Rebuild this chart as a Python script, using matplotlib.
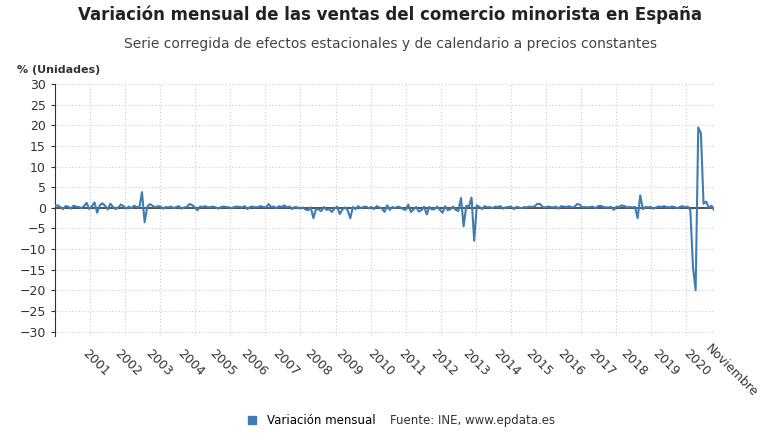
import matplotlib
matplotlib.use("Agg")
import matplotlib.pyplot as plt
from matplotlib.lines import Line2D

y2000 = [0.5, 0.6, 0.2, -0.3, 0.4, 0.3, -0.2, 0.5, 0.3, 0.2, -0.1, 0.4]
y2001 = [1.2, -0.3, 0.4, 1.3, -1.2, 0.6, 1.1, 0.5, -0.4, 1.0, 0.2, -0.3]
y2002 = [0.1, 0.8, 0.4, -0.2, 0.3, -0.1, 0.5, 0.2, 0.1, 3.8, -3.5, 0.3]
y2003 = [0.9, 0.5, 0.1, 0.4, 0.3, -0.2, 0.2, 0.1, 0.3, -0.1, 0.2, 0.4]
y2004 = [-0.2, 0.1, 0.2, 0.9, 0.7, 0.1, -0.6, 0.3, 0.2, 0.4, 0.1, 0.2]
y2005 = [0.3, 0.1, -0.2, 0.2, 0.3, 0.2, 0.1, -0.1, 0.2, 0.3, 0.2, 0.1]
y2006 = [0.4, -0.3, 0.2, 0.3, 0.1, 0.2, 0.4, 0.2, 0.1, 0.9, 0.2, 0.3]
y2007 = [-0.1, 0.4, 0.2, 0.6, 0.1, 0.3, -0.3, 0.2, 0.1, -0.2, 0.1, -0.4]
y2008 = [-0.6, 0.1, -2.5, -0.3, -0.4, -0.8, 0.2, -0.5, -0.3, -1.0, -0.2, 0.3]
y2009 = [-1.5, -0.4, 0.1, -0.6, -2.5, 0.2, -0.3, 0.4, -0.1, 0.2, 0.3, -0.1]
y2010 = [0.2, -0.3, 0.4, 0.1, -0.2, -1.0, 0.6, -0.5, 0.2, -0.1, 0.3, 0.1]
y2011 = [-0.3, -0.5, 0.8, -1.0, -0.4, 0.2, -0.9, -0.6, 0.3, -1.6, 0.2, -0.4]
y2012 = [-0.3, 0.3, -0.5, -1.2, 0.4, -0.6, -0.3, 0.3, -0.5, -0.8, 2.4, -4.5]
y2013 = [0.5, 0.3, 2.5, -8.0, 0.6, 0.2, -0.3, 0.4, 0.1, 0.2, -0.1, 0.3]
y2014 = [0.2, 0.4, -0.2, 0.1, 0.2, 0.3, -0.3, 0.2, 0.1, -0.1, 0.2, 0.1]
y2015 = [0.3, 0.2, 0.4, 1.0, 0.9, 0.2, 0.1, 0.3, 0.2, 0.1, 0.3, -0.2]
y2016 = [0.4, 0.3, 0.2, 0.4, 0.1, 0.2, 0.9, 0.8, 0.1, 0.2, 0.1, 0.2]
y2017 = [0.3, -0.1, 0.4, 0.5, 0.2, 0.1, 0.1, 0.2, -0.5, 0.3, 0.2, 0.6]
y2018 = [0.4, 0.1, 0.2, 0.1, 0.2, -2.5, 3.0, -0.3, 0.2, 0.1, 0.2, -0.2]
y2019 = [0.1, 0.3, 0.2, 0.4, 0.2, 0.1, 0.3, 0.2, -0.1, 0.2, 0.4, 0.1]
y2020 = [0.3, -0.6, -14.5, -20.0, 19.5, 18.0, 1.0, 1.5, 0.0, 0.5, -0.5]

values = (y2000 + y2001 + y2002 + y2003 + y2004 + y2005 + y2006 + y2007 + y2008 + y2009 +
          y2010 + y2011 + y2012 + y2013 + y2014 + y2015 + y2016 + y2017 + y2018 + y2019 + y2020)
year_labels = [str(y) for y in range(2001, 2021)]
yticks = list(range(-30, 31, 5))

blue = "#3f7cb3"
fig = plt.figure(figsize=(7.8, 4.4), dpi=100)
ax = fig.add_axes([0.0705, 0.237, 0.845, 0.572])
x = list(range(len(values)))
ax.plot(x, values, color=blue, lw=1.5, zorder=3)
ax.axhline(0, color="#333333", lw=1.2, zorder=2)
ax.set_xlim(0, len(values) - 1)
ax.set_ylim(-31, 30)
ax.set_yticks(yticks)
ax.tick_params(axis="y", labelsize=9, colors="#333333", length=3)
for yv in yticks:
    ax.axhline(yv, color="#cccccc", lw=0.8, ls=(0, (1, 2)), zorder=1)
k = 13.3
g = k
while g < len(values):
    ax.axvline(g, color="#cccccc", lw=0.8, ls=(0, (1, 2)), zorder=1)
    g += k
ax.set_xticks([12 * i + 1 for i in range(1, 21)])
ax.set_xticklabels(year_labels, rotation=-45, ha="left", fontsize=9, color="#333333", rotation_mode="anchor")
ax.tick_params(axis="x", length=0, pad=8)
for s in ["top", "right", "bottom"]:
    ax.spines[s].set_visible(False)
ax.spines["left"].set_color("#333333")
ax.text(len(values) - 2, -32.5, "Noviembre", rotation=-45, ha="left", va="top", fontsize=9,
        color="#333333", rotation_mode="anchor")

fig.text(0.5, 0.955, "Variación mensual de las ventas del comercio minorista en España",
         ha="center", fontsize=12, fontweight="bold", color="#222222")
fig.text(0.5, 0.89, "Serie corregida de efectos estacionales y de calendario a precios constantes",
         ha="center", fontsize=10, color="#444444")
fig.text(0.022, 0.835, "% (Unidades)", fontsize=8, fontweight="bold", color="#333333")
fig.legend([Line2D([], [], marker="s", color=blue, ls="", markersize=6)], ["Variación mensual"],
           loc="center", bbox_to_anchor=(0.395, 0.045), frameon=False, fontsize=8.5, handletextpad=0.3)
fig.text(0.50, 0.045, "Fuente: INE, www.epdata.es", fontsize=8.5, va="center", color="#333333")
fig.savefig("out.png", dpi=100)
